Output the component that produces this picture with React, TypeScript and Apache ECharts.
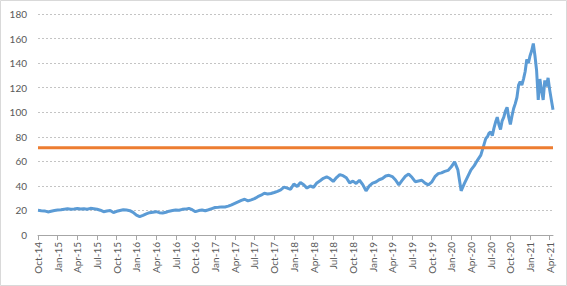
import React, { useEffect, useRef } from "react";
import * as echarts from "echarts";

// Quarterly tick labels (month offsets 0,3,...,78 from Oct-2014)
const tickLabels = [
  "Oct-14", "Jan-15", "Apr-15", "Jul-15", "Oct-15", "Jan-16", "Apr-16", "Jul-16", "Oct-16",
  "Jan-17", "Apr-17", "Jul-17", "Oct-17", "Jan-18", "Apr-18", "Jul-18", "Oct-18",
  "Jan-19", "Apr-19", "Jul-19", "Oct-19", "Jan-20", "Apr-20", "Jul-20", "Oct-20",
  "Jan-21", "Apr-21",
];

// Price sampled every half month from Oct-2014 up to mid-Jun-2020
const pricesHalfMonthly = [
  20.1, 19.8, 19.6, 18.8, 19.4, 19.9, 20.3, 20.6, 21.0, 21.3, 20.9, 21.2,
  21.6, 21.1, 21.4, 21.0, 21.7, 21.4, 21.0, 20.2, 19.0, 19.6, 19.9, 18.3,
  19.3, 20.0, 20.6, 20.3, 19.8, 18.4, 16.2, 15.0, 16.0, 17.2, 18.2, 18.6,
  19.0, 18.2, 17.9, 18.5, 19.4, 19.9, 20.4, 20.2, 20.9, 21.1, 21.7, 20.6,
  19.0, 19.9, 20.4, 19.8, 20.6, 21.5, 22.4, 22.6, 22.9, 22.8, 23.5, 24.6,
  25.8, 27.0, 28.2, 29.1, 27.8, 28.6, 29.6, 31.2, 32.4, 34.0, 33.4, 33.8,
  34.6, 35.6, 36.8, 39.0, 38.2, 37.2, 41.6, 39.5, 42.8, 41.0, 38.2, 39.9,
  38.9, 42.4, 44.2, 46.2, 47.3, 46.0, 43.6, 46.8, 49.2, 48.3, 46.6, 42.5,
  43.9, 42.0, 44.6, 41.0, 36.0, 40.0, 42.3, 43.2, 45.0, 46.0, 48.0, 48.6,
  47.6, 44.8, 40.8, 44.5, 47.8, 49.6, 47.0, 43.4, 44.0, 44.6, 42.2, 40.8,
  43.0, 47.5, 50.0, 50.6, 51.8, 52.6, 55.5, 59.6, 53.0, 36.0, 42.0, 47.5,
  53.0, 56.5, 61.0, 65.0,
];

// Price sampled every quarter month from Jun-2020 to mid-Apr-2021
const pricesQuarterMonthly = [
  74, 78.5, 80, 83, 84, 81, 87, 92, 96, 90, 86, 93,
  96, 101, 104, 96, 90, 97, 103, 107, 112, 122, 125, 122,
  127, 133, 143, 140, 146, 150, 156, 146, 134, 110, 127, 118,
  110, 126, 121, 128, 118, 110, 102,
];

const thresholdValue = 71;

export default function App() {
  const ref = useRef<HTMLDivElement>(null);

  useEffect(() => {
    if (!ref.current) return;
    const chart = echarts.init(ref.current, null, { renderer: "svg" });

    const priceData: [number, number][] = [];
    pricesHalfMonthly.forEach((v, i) => priceData.push([i / 2, v]));
    const startQ = pricesHalfMonthly.length / 2;
    pricesQuarterMonthly.forEach((v, i) => priceData.push([startQ + i / 4, v]));
    const xMax = priceData[priceData.length - 1][0];

    const tickValues = tickLabels.map((_, i) => i * 3);
    const font = "Lato, 'Liberation Sans', sans-serif";

    chart.setOption({
      animation: false,
      grid: { left: 38, right: 14, top: 14, bottom: 51 },
      graphic: [
        {
          type: "rect",
          shape: { x: 0.5, y: 0.5, width: 566, height: 285 },
          style: { fill: "none", stroke: "#d9d9d9", lineWidth: 1 },
          silent: true,
        },
      ],
      xAxis: {
        type: "value",
        min: 0,
        max: xMax,
        splitLine: { show: false },
        axisLine: { show: true, onZero: false, lineStyle: { color: "#a6a6a6", width: 1 } },
        axisTick: {
          show: true,
          length: 5,
          customValues: tickValues,
          lineStyle: { color: "#a6a6a6" },
        },
        axisLabel: {
          customValues: tickValues,
          rotate: 90,
          margin: 7,
          color: "#595959",
          fontSize: 10,
          fontFamily: font,
          formatter: (v: number) => tickLabels[Math.round(v / 3)] ?? "",
        },
      },
      yAxis: {
        type: "value",
        min: 0,
        max: 180,
        interval: 20,
        axisLine: { show: false },
        axisTick: { show: false },
        axisLabel: { color: "#595959", fontSize: 10, fontFamily: font, margin: 11 },
        splitLine: { lineStyle: { color: "#c4c4c4", type: [2, 2], width: 1 } },
      },
      series: [
        {
          type: "line",
          data: priceData,
          showSymbol: false,
          lineStyle: { color: "#5B9BD5", width: 3 },
          itemStyle: { color: "#5B9BD5" },
          z: 2,
        },
        {
          type: "line",
          data: [
            [0, thresholdValue],
            [xMax, thresholdValue],
          ],
          showSymbol: false,
          lineStyle: { color: "#ED7D31", width: 3 },
          itemStyle: { color: "#ED7D31" },
          z: 3,
        },
      ],
    });

    return () => chart.dispose();
  }, []);

  return (
    <div
      ref={ref}
      style={{ position: "absolute", left: 0, top: 0, width: 567, height: 286, background: "#fff" }}
    />
  );
}
